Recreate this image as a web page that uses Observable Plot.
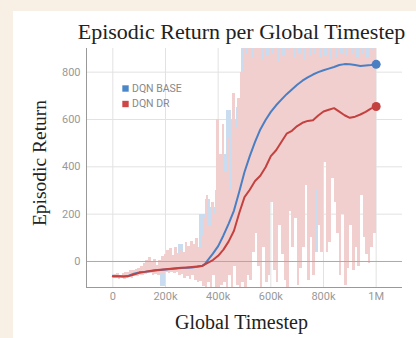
<!DOCTYPE html>
<html><head><meta charset="utf-8">
<script src="https://cdn.jsdelivr.net/npm/d3@7"></script>
<script src="https://cdn.jsdelivr.net/npm/@observablehq/plot@0.6"></script>
<style>
html,body{margin:0;padding:0;background:#f9f0e5;}
#wrap{position:relative;width:416px;height:338px;overflow:hidden;background:#f9f0e5;}
#panel{position:absolute;left:13px;top:11px;right:0;bottom:0;background:#fff;}
#chart{position:absolute;left:0;top:0;}
</style></head><body><div id="wrap"><div id="panel"></div><div id="chart"></div></div>
<script>
const titleText = "Episodic Return per Global Timestep";
const xLabel = "Global Timestep";
const yLabel = "Episodic Return";
const seriesNames = ["DQN BASE", "DQN DR"];

const xTicks = [0, 200000, 400000, 600000, 800000, 1000000];
const xTickLabels = ["0", "200k", "400k", "600k", "800k", "1M"];
const yTicks = [0, 200, 400, 600, 800];

// smoothed curves (x in thousands of steps)
const smoothX = [0,20,40,60,80,100,120,140,160,180,200,220,240,260,280,300,320,340,350,360,380,400,420,440,460,480,500,520,540,560,580,600,620,640,660,680,700,720,740,760,780,800,820,840,860,880,900,920,940,960,980,1000];
const baseSmooth = [-62,-62,-63,-60,-52,-46,-44,-41,-38,-36,-34,-32,-30,-28,-27,-25,-22,-18,-10,5,33,65,110,160,215,295,378,445,505,558,598,632,660,684,707,727,747,764,778,790,800,808,815,822,830,834,833,830,826,828,830,833];
const drSmooth = [-62,-62,-64,-62,-55,-48,-44,-40,-37,-35,-33,-31,-29,-27,-25,-23,-21,-19,-12,-6,6,24,50,85,130,205,272,303,340,362,398,445,470,505,540,552,572,586,594,597,617,634,641,648,633,618,607,612,621,632,646,655];

// raw (unsmoothed) returns
const baseRawStep = 10000; // DQN BASE raw, every 10k steps from 0
const baseRaw = [-55,-70,-58,-66,-60,-72,-50,-65,-45,-60,
  -40,-55,-35,-52,-30,-50,-28,-48,-25,-105,
  -20,-45,-15,-42,-10,-40,70,-38,0,-30,
  20,-35,60,-30,200,-40,260,-20,230,0,
  300,40,450,60,640,80,600,100,650,200,
  950,300,950,350,950,400,950,450,950,500,
  950,520,950,560,950,600,950,620,950,640,
  950,660,950,680,950,700,950,40,950,720,
  950,730,950,740,950,750,950,760,950,760,
  950,770,950,760,950,770,950,780,950,780,
  950];
const drRawStep = 5000; // DQN DR raw, every 5k steps from 0
const drRaw = [-60,-72,-55,-70,-50,-75,-58,-68,-52,-78,
  -48,-70,-45,-66,-40,-72,-38,-64,-35,-62,
  -30,-58,-20,-60,-10,-55,5,-52,15,-50,
  -5,-58,10,-55,-15,-60,5,-50,20,-52,
  30,-48,45,-50,55,-45,25,-52,60,-48,
  35,-60,50,-55,40,-70,80,-62,65,-75,
  85,-60,70,-80,95,-90,60,-85,110,-105,
  180,-110,280,-90,150,-110,250,-60,200,-110,
  600,-110,450,-100,580,-90,380,-110,520,-60,
  300,-110,710,-20,560,-100,690,-110,800,-90,
  950,-110,880,-60,950,-80,860,40,950,120,
  900,-20,950,-110,850,60,950,-90,870,-60,
  950,250,880,-40,950,-90,840,150,950,30,
  870,-80,950,-110,890,210,950,60,860,180,
  950,-100,880,-30,950,60,850,320,950,-80,
  870,100,950,-60,880,300,950,150,860,40,
  950,420,870,40,950,80,850,350,950,250,
  860,120,950,-60,880,200,950,-100,870,-30,
  950,150,880,-40,950,60,860,-20,950,280,
  880,100,950,30,860,-10,950,60,890,120,
  940];

const colors = ["#4a7fc3", "#c3423f"];
const rawColors = ["#c9dcf0", "#f2cfcf"];

const smoothData = (ys) => smoothX.map((x, i) => ({x: x * 1000, y: ys[i]}));
// each stretch between two consecutive raw samples is covered by the raw trace
const rawSpans = (ys, step) => ys.slice(0, -1).map((y, i) => ({x1: i * step, x2: (i + 1) * step, y1: y, y2: ys[i + 1]}));
const baseS = smoothData(baseSmooth), drS = smoothData(drSmooth);
const lastB = baseS[baseS.length - 1], lastD = drS[drS.length - 1];

const serif = "'Liberation Serif', 'Times New Roman', serif";
const sans = "Roboto, 'Noto Sans', sans-serif";
const xDom = [-100000, 1100000], yDom = [-110, 900];

const chart = Plot.plot({
  width: 416, height: 338,
  marginLeft: 86, marginRight: 14, marginTop: 48, marginBottom: 51,
  style: {background: "transparent", overflow: "visible"},
  x: {domain: xDom},
  y: {domain: yDom},
  marks: [
    Plot.gridY(yTicks.filter(v => v !== 0), {stroke: "#e2e2e2", strokeOpacity: 1}),
    Plot.gridX(xTicks, {stroke: "#e2e2e2", strokeOpacity: 1}),
    Plot.rect(rawSpans(baseRaw, baseRawStep), {x1: "x1", x2: "x2", y1: "y1", y2: "y2", fill: rawColors[0], clip: true, shapeRendering: "crispEdges"}),
    Plot.rect(rawSpans(drRaw, drRawStep), {x1: "x1", x2: "x2", y1: "y1", y2: "y2", fill: rawColors[1], clip: true, shapeRendering: "crispEdges"}),
    Plot.ruleY([0], {stroke: "#aaa", strokeWidth: 1}),
    Plot.ruleX([xDom[0]], {stroke: "#999"}),
    Plot.ruleY([yDom[0]], {stroke: "#999"}),
    Plot.axisY(yTicks, {tickSize: 0, tickPadding: 6, label: null, fontSize: 11, fill: "#999", fontFamily: sans}),
    Plot.axisX(xTicks, {tickSize: 0, tickPadding: 5, label: null, fontSize: 11, fill: "#999", fontFamily: sans,
      tickFormat: d => xTickLabels[xTicks.indexOf(d)]}),
    Plot.line(baseS, {x: "x", y: "y", stroke: colors[0], strokeWidth: 2}),
    Plot.line(drS, {x: "x", y: "y", stroke: colors[1], strokeWidth: 2}),
    Plot.dot([lastB], {x: "x", y: "y", r: 4.5, fill: colors[0]}),
    Plot.dot([lastD], {x: "x", y: "y", r: 4.5, fill: colors[1]}),
    // legend
    Plot.dot([seriesNames[0]], {frameAnchor: "top-left", dx: 39, dy: 40, symbol: "square", r: 3.6, fill: "#4a86c8"}),
    Plot.dot([seriesNames[1]], {frameAnchor: "top-left", dx: 39, dy: 55.5, symbol: "square", r: 3.6, fill: "#cf4646"}),
    Plot.text([seriesNames[0]], {frameAnchor: "top-left", dx: 45.5, dy: 40, textAnchor: "start", lineAnchor: "middle", fontSize: 10.5, fill: "#888", fontFamily: sans}),
    Plot.text([seriesNames[1]], {frameAnchor: "top-left", dx: 45.5, dy: 55.5, textAnchor: "start", lineAnchor: "middle", fontSize: 10.5, fill: "#888", fontFamily: sans}),
    // titles
    Plot.text([titleText], {frameAnchor: "top", dx: -3, dy: -17, textAnchor: "middle", lineAnchor: "middle", fontSize: 22, fill: "#222", fontFamily: serif}),
    Plot.text([xLabel], {frameAnchor: "bottom", dx: -3, dy: 35, textAnchor: "middle", lineAnchor: "middle", fontSize: 20, fill: "#222", fontFamily: serif}),
    Plot.text([yLabel], {frameAnchor: "left", dx: -47, dy: -5, rotate: -90, textAnchor: "middle", lineAnchor: "middle", fontSize: 19.5, fill: "#222", fontFamily: serif})
  ]
});
document.getElementById("chart").appendChild(chart);
</script></body></html>
